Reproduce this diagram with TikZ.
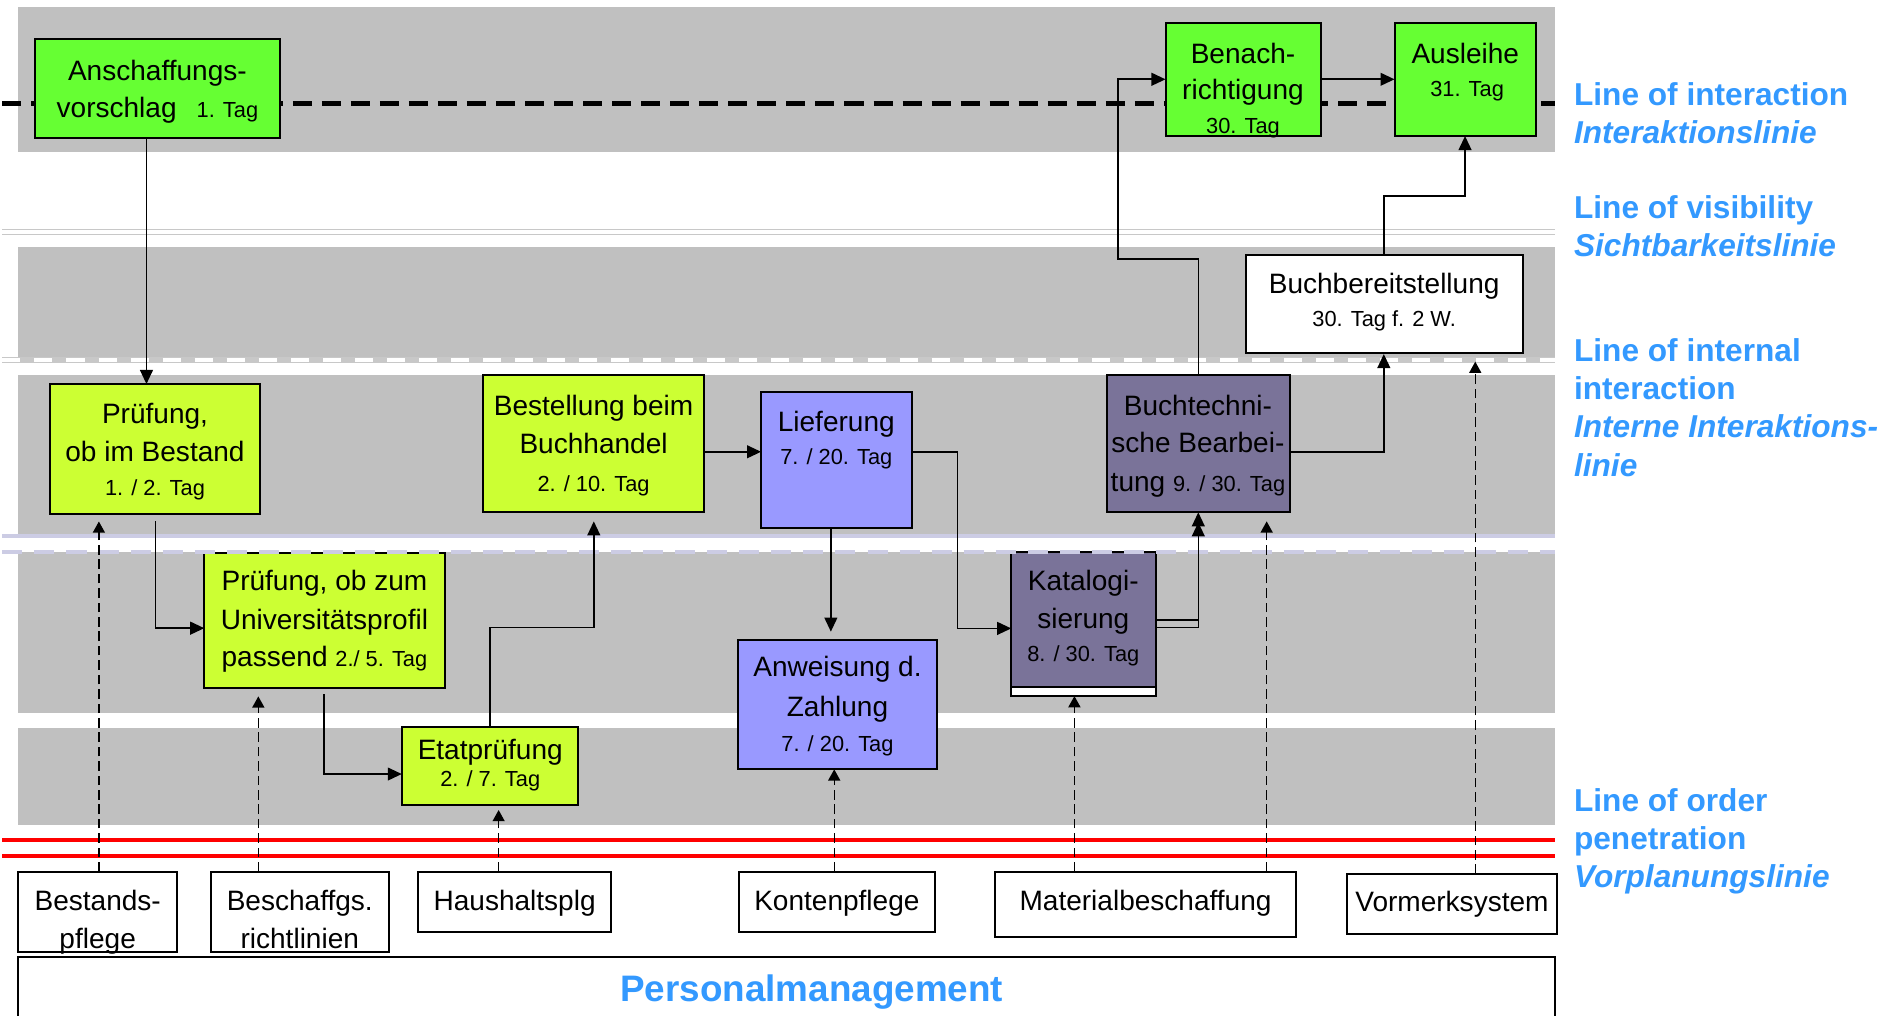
\documentclass[tikz,border=0pt]{standalone}
\usepackage{fontspec}
\usetikzlibrary{arrows.meta,fit}

\newfontfamily\labelfont{Liberation Sans}
\newcommand\mainsz{\labelfont\fontsize{14}{19}\selectfont}
\newcommand\smallsz{\fontsize{10.9}{14}\selectfont}

\definecolor{bandgray}{RGB}{192,192,192}
\definecolor{cGreen}{RGB}{102,255,51}
\definecolor{cLime}{RGB}{204,255,51}
\definecolor{cViolet}{RGB}{153,153,255}
\definecolor{cPurple}{RGB}{122,115,153}
\definecolor{cBlue}{RGB}{51,153,255}
\definecolor{cLav}{RGB}{204,204,228}
\definecolor{cRule}{RGB}{200,200,200}

\begin{document}
\begin{tikzpicture}[x=0.6pt,y=-0.6pt,
  box/.style={draw=black,line width=1pt,inner sep=0pt,outer sep=0pt},
  txt/.style={anchor=base,inner sep=0pt,font=\mainsz},
  lbl/.style={anchor=base west,inner sep=0pt,text=cBlue,font=\labelfont\bfseries\fontsize{15.8}{19}\selectfont},
  conn/.style={line width=0.8pt,-{Triangle[length=7pt,width=6.4pt]}},
  dconn/.style={line width=0.7pt,dash pattern=on 4.8pt off 2.4pt,-{Triangle[length=5.6pt,width=6pt]}}]
\useasboundingbox (0,0) rectangle (1568,845);

% swimlane bands
\fill[bandgray] (15,5.5) rectangle (1294,126.2);
\fill[bandgray] (15,205.3) rectangle (1294,298.5);
\fill[bandgray] (15,312.1) rectangle (1294,445.3);
\fill[bandgray] (15,459) rectangle (1294,593.2);
\fill[bandgray] (15,605.6) rectangle (1294,686.6);

% line of interaction
\draw[line width=2.8pt,dash pattern=on 9.5pt off 5pt] (2,86.3) -- (1294,86.3);
% line of visibility
\draw[cRule,line width=0.7pt] (2,190.9) -- (1294,190.9);
\draw[cRule,line width=0.7pt] (2,195) -- (1294,195);
% line of internal interaction
\draw[cRule,line width=3pt] (2,299.6) -- (1294,299.6);
\draw[white,line width=1.6pt,dash pattern=on 9pt off 7pt] (2,299.6) -- (1294,299.6);
% lavender separator
\draw[cLav,line width=2.3pt] (2,446) -- (1294,446);
% line of order penetration
\draw[red,line width=2.2pt] (2,699.1) -- (1294,699.1);
\draw[red,line width=2.2pt] (2,712.2) -- (1294,712.2);

% process boxes
\node[box,fill=cGreen,fit={(29,32.7) (233,114.6)}] (ansch) {};
\node[box,fill=cGreen,fit={(970,19.4) (1099,113.2)}] (benach) {};
\node[box,fill=cGreen,fit={(1160.6,19.4) (1278.4,113.2)}] (ausl) {};
\node[box,fill=white,fit={(1036.8,212.2) (1267.6,293.5)}] (bbereit) {};
\node[box,fill=cLime,fit={(42,319.6) (216,428)}] (pbest) {};
\node[box,fill=cLime,fit={(402,312.5) (586,426.4)}] (best) {};
\node[box,fill=cViolet,fit={(633.4,326) (759,439.7)}] (lief) {};
\node[box,fill=cPurple,fit={(921.4,312.1) (1073.3,426.4)}] (btech) {};
\node[box,fill=cLime,fit={(170,460.5) (370,572.9)}] (univ) {};
\node[box,fill=cPurple,fit={(841.6,459.7) (961.7,572)}] (katal) {};
\node[box,fill=white,fit={(841.6,572) (961.7,579.3)}] (katstrip) {};
\node[box,fill=cViolet,fit={(614.5,532.7) (780,640.3)}] (anw) {};
\node[box,fill=cLime,fit={(334.4,604.8) (481.4,670.3)}] (etat) {};

% support boxes
\node[box,fill=white,fit={(14.9,725.5) (147.6,792.6)}] (bestp) {};
\node[box,fill=white,fit={(175.2,725.5) (323.8,792.6)}] (besch) {};
\node[box,fill=white,fit={(348.2,725.5) (508.5,775.4)}] (haus) {};
\node[box,fill=white,fit={(614.7,725.5) (778.2,775.4)}] (konto) {};
\node[box,fill=white,fit={(828,725.5) (1078.7,779.5)}] (mat) {};
\node[box,fill=white,fit={(1120.8,727.4) (1295.9,777.6)}] (vorm) {};
\node[box,fill=white,fit={(14.9,796.8) (1294.3,850)}] (pers) {};

% dashed lavender rule over the box tops
\draw[cLav,line width=2pt,dash pattern=on 10pt off 6pt] (2,459) -- (1294,459);

% process flow
\draw[conn] (121.9,0 |- ansch.south) -- (121.9,0 |- pbest.north);
\draw[conn,shorten <=3.6pt] (129.3,0 |- pbest.south) |- (univ.west |- 0,522.8);
\draw[conn,shorten <=3pt] (269.6,0 |- univ.south) |- (etat.west |- 0,644.2);
\draw[conn,shorten >=4.5pt] (407.9,0 |- etat.north) |- (494.2,522.1) -- (494.2,0 |- best.south);
\draw[conn] (best.east |- 0,376) -- (lief.west |- 0,376);
\draw[conn,shorten >=4.2pt] (691.5,0 |- lief.south) -- (691.5,0 |- anw.north);
\draw[conn] (lief.east |- 0,376) -| (797,523) -- (katal.west |- 0,523);
\draw[conn] (katal.east |- 0,522.1) -| (997.3,0 |- btech.south);
\draw[conn,shorten >=5pt] (katal.east |- 0,516) -| (997.3,0 |- btech.south);
\draw[conn] (997.3,0 |- btech.north) |- (930.3,215.8) |- (benach.west |- 0,66);
\draw[conn,shorten >=0.7pt] (btech.east |- 0,376) -| (1151.7,0 |- bbereit.south);
\draw[conn] (1151.7,0 |- bbereit.north) |- (1219.3,162.9) -- (1219.3,0 |- ausl.south);
\draw[conn] (benach.east |- 0,66) -- (ausl.west |- 0,66);

% support relations
\draw[dconn,shorten >=3.6pt] (82.3,0 |- bestp.north) -- (82.3,0 |- pbest.south);
\draw[dconn,shorten >=4pt] (215,0 |- besch.north) -- (215,0 |- univ.south);
\draw[dconn,shorten >=2.3pt] (415,0 |- haus.north) -- (415,0 |- etat.south);
\draw[dconn] (694.3,0 |- konto.north) -- (694.3,0 |- anw.south);
\draw[dconn] (894.2,0 |- mat.north) -- (894.2,0 |- katstrip.south);
\draw[dconn,shorten >=4.5pt] (1054.2,0 |- mat.north) -- (1054.2,0 |- btech.south);
\draw[dconn,shorten >=4.5pt] (1227.8,0 |- vorm.north) -- (1227.8,0 |- bbereit.south);

% box texts
\node[txt] (ansch1) at (131,66.6) {Anschaffungs-};
\node[txt] (ansch2) at (131,97.6) {vorschlag\hspace{10pt}{\smallsz 1. Tag}};
\node[txt] (benach1) at (1034.5,52.7) {Benach-};
\node[txt] (benach2) at (1034.5,83.2) {richtigung};
\node[txt] (benach3) at (1034.5,111) {\smallsz 30. Tag};
\node[txt] (ausl1) at (1219.5,52.7) {Ausleihe};
\node[txt] (ausl2) at (1221,80.5) {\smallsz 31. Tag};
\node[txt] (bbereit1) at (1152,244.1) {Buchbereitstellung};
\node[txt] (bbereit2) at (1152,271.9) {\smallsz 30. Tag f. 2 W.};
\node[txt] (pbest1) at (129,352.3) {Prüfung,};
\node[txt] (pbest2) at (129,384.2) {ob im Bestand};
\node[txt] (pbest3) at (129,412) {\smallsz 1. / 2. Tag};
\node[txt] (best1) at (494,345.4) {Bestellung beim};
\node[txt] (best2) at (494,377.3) {Buchhandel};
\node[txt] (best3) at (494,409.2) {\smallsz 2. / 10. Tag};
\node[txt] (lief1) at (696,359.3) {Lieferung};
\node[txt] (lief2) at (696,387) {\smallsz 7. / 20. Tag};
\node[txt] (btech1) at (997,345.4) {Buchtechni-};
\node[txt] (btech2) at (997,376.8) {sche Bearbei-};
\node[txt] (btech3) at (997,409.2) {tung {\smallsz 9. / 30. Tag}};
\node[txt] (univ1) at (270,491.6) {Prüfung, ob zum};
\node[txt] (univ2) at (270,524.3) {Universitätsprofil};
\node[txt] (univ3) at (270,554.9) {passend {\smallsz 2./ 5. Tag}};
\node[txt] (katal1) at (901.6,491.6) {Katalogi-};
\node[txt] (katal2) at (901.6,523) {sierung};
\node[txt] (katal3) at (901.6,550.7) {\smallsz 8. / 30. Tag};
\node[txt] (anw1) at (697,563.2) {Anweisung d.};
\node[txt] (anw2) at (697,596.5) {Zahlung};
\node[txt] (anw3) at (697,625.6) {\smallsz 7. / 20. Tag};
\node[txt] (etat1) at (408,632.5) {Etatprüfung};
\node[txt] (etat2) at (408,654.2) {\smallsz 2. / 7. Tag};
\node[txt] (bestp1) at (81.3,758) {Bestands-};
\node[txt] (bestp2) at (81.3,789.3) {pflege};
\node[txt] (besch1) at (249.5,758) {Beschaffgs.};
\node[txt] (besch2) at (249.5,789.3) {richtlinien};
\node[txt] (haus1) at (428.3,758) {Haushaltsplg};
\node[txt] (konto1) at (696.5,758) {Kontenpflege};
\node[txt] (mat1) at (953.4,758) {Materialbeschaffung};
\node[txt] (vorm1) at (1208.4,758.8) {Vormerksystem};
\node[txt,text=cBlue,font=\labelfont\bfseries\fontsize{18.4}{22}\selectfont] (pers1) at (675.5,833.7) {Personalmanagement};

% line captions
\node[lbl] (cap1a) at (1309.7,88.2) {Line of interaction};
\node[lbl] (cap1b) at (1309.7,119.3) {\itshape Interaktionslinie};
\node[lbl] (cap2a) at (1309.7,181.7) {Line of visibility};
\node[lbl] (cap2b) at (1309.7,213.6) {\itshape Sichtbarkeitslinie};
\node[lbl] (cap3a) at (1309.7,301) {Line of internal};
\node[lbl] (cap3b) at (1309.7,332.9) {interaction};
\node[lbl] (cap3c) at (1309.7,364) {\itshape Interne Interaktions-};
\node[lbl] (cap3d) at (1309.7,396.2) {\itshape linie};
\node[lbl] (cap4a) at (1309.7,675.5) {Line of order};
\node[lbl] (cap4b) at (1309.7,706.9) {penetration};
\node[lbl] (cap4c) at (1309.7,738.5) {\itshape Vorplanungslinie};
\end{tikzpicture}
\end{document}
